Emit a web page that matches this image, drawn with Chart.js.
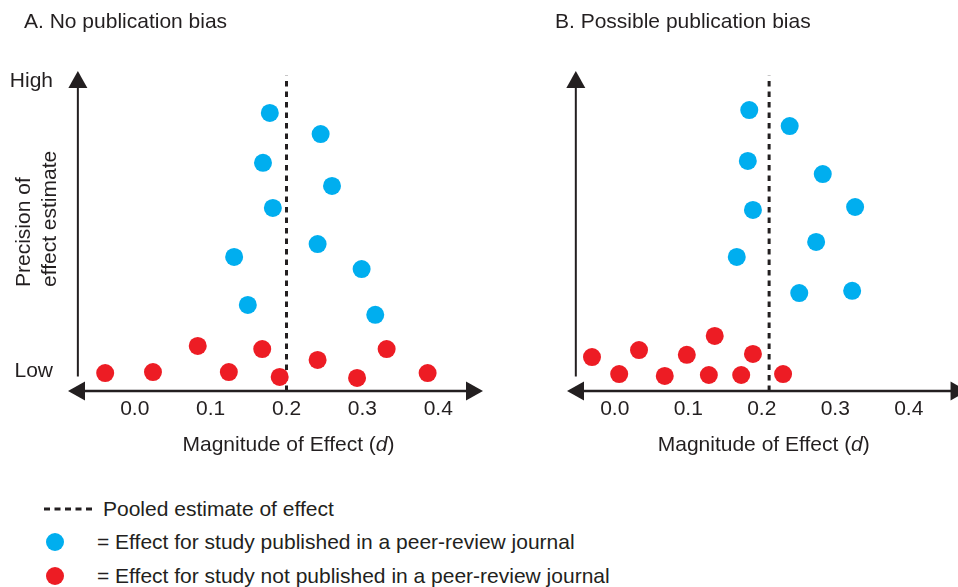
<!DOCTYPE html>
<html>
<head>
<meta charset="utf-8">
<script src="https://cdn.jsdelivr.net/npm/chart.js@4"></script>
<style>
  html, body { margin: 0; padding: 0; background: #fff; overflow: hidden; width: 958px; height: 587px; }
  body { position: relative; font-family: "Liberation Sans", Arial, sans-serif; color: #231f20; }
  canvas { position: absolute; top: 0; left: 0; }
  .t { position: absolute; font-size: 21px; line-height: 24px; white-space: nowrap; }
  .dot { position: absolute; width: 18px; height: 18px; border-radius: 50%; }
  svg { position: absolute; }
</style>
</head>
<body>
<canvas id="panelA" width="958" height="470"></canvas>
<canvas id="panelB" width="958" height="470"></canvas>

<div class="t" style="left:24px;top:9px">A. No publication bias</div>
<div class="t" style="left:555px;top:9px">B. Possible publication bias</div>

<svg style="left:44px;top:504px" width="50" height="10"><line id="legendDash" x1="0" y1="5" x2="48" y2="5" stroke-width="3"/></svg>
<div class="t" style="left:103px;top:497px">Pooled estimate of effect</div>
<div class="dot" id="legendBlue" style="left:46px;top:533px"></div>
<div class="t" style="left:97px;top:530px">= Effect for study published in a peer-review journal</div>
<div class="dot" id="legendRed" style="left:46px;top:567px"></div>
<div class="t" style="left:97px;top:564px">= Effect for study not published in a peer-review journal</div>

<script>
// Effect-size tick marks along the horizontal axis
const xTicks = [0.0, 0.1, 0.2, 0.3, 0.4];
const tickLabels = ['0.0', '0.1', '0.2', '0.3', '0.4'];

// Panel A: no publication bias
const aPublishedEffect    = [0.178, 0.245, 0.169, 0.260, 0.182, 0.241, 0.131, 0.299, 0.149, 0.317];
const aPublishedPrecision = [8.69, 8.03, 7.13, 6.41, 5.72, 4.59, 4.19, 3.81, 2.69, 2.38];
const aUnpublishedEffect    = [0.083, 0.168, 0.332, 0.241, -0.039, 0.024, 0.124, 0.191, 0.293, 0.386];
const aUnpublishedPrecision = [1.41, 1.31, 1.31, 0.97, 0.56, 0.59, 0.59, 0.44, 0.41, 0.56];
const aPooled = 0.20;

// Panel B: possible publication bias
const bPublishedEffect    = [0.183, 0.238, 0.181, 0.283, 0.327, 0.188, 0.274, 0.166, 0.251, 0.323];
const bPublishedPrecision = [8.78, 8.28, 7.19, 6.78, 5.75, 5.66, 4.66, 4.19, 3.06, 3.13];
const bUnpublishedEffect    = [0.136, 0.033, 0.188, 0.098, -0.031, 0.006, 0.229, 0.068, 0.128, 0.172];
const bUnpublishedPrecision = [1.72, 1.28, 1.16, 1.13, 1.06, 0.53, 0.53, 0.47, 0.50, 0.50];
const bPooled = 0.21;

const INK = '#231f20';
const BLUE = '#00aeef';
const RED = '#ed1c24';
const FONT = '"Liberation Sans", Arial, sans-serif';

document.getElementById('legendDash').setAttribute('stroke', INK);
document.getElementById('legendDash').setAttribute('stroke-dasharray', '6 4.5');
document.getElementById('legendBlue').style.background = BLUE;
document.getElementById('legendRed').style.background = RED;

const zip = (xs, ys) => xs.map((v, i) => ({ x: v, y: ys[i] }));

// Arrowed axes, tick labels and axis titles
const arrowAxes = {
  id: 'arrowAxes',
  beforeDatasetsDraw(chart, args, opts) {
    const { ctx, scales: { x, y } } = chart;
    const head = 17, half = 9.5;
    const y0 = y.getPixelForValue(0);
    const L = x.getPixelForValue(opts.arrowFrom), R = x.getPixelForValue(opts.arrowTo);
    const T = y.getPixelForValue(y.max);
    const ax = x.getPixelForValue(opts.yAxisAt);
    ctx.save();
    ctx.strokeStyle = INK;
    ctx.fillStyle = INK;

    // horizontal axis with arrowheads at both ends
    ctx.lineWidth = 2.5;
    ctx.beginPath(); ctx.moveTo(L + head - 1, y0); ctx.lineTo(R - head + 1, y0); ctx.stroke();
    ctx.beginPath(); ctx.moveTo(L, y0); ctx.lineTo(L + head, y0 - half); ctx.lineTo(L + head, y0 + half); ctx.closePath(); ctx.fill();
    ctx.beginPath(); ctx.moveTo(R, y0); ctx.lineTo(R - head, y0 - half); ctx.lineTo(R - head, y0 + half); ctx.closePath(); ctx.fill();

    // vertical axis with an arrowhead at the top
    ctx.lineWidth = 2;
    ctx.beginPath(); ctx.moveTo(ax, T + head - 1); ctx.lineTo(ax, y.getPixelForValue(opts.yAxisFrom)); ctx.stroke();
    ctx.beginPath(); ctx.moveTo(ax, T); ctx.lineTo(ax - half, T + head); ctx.lineTo(ax + half, T + head); ctx.closePath(); ctx.fill();

    // tick labels
    ctx.font = '21px ' + FONT;
    ctx.textAlign = 'center';
    ctx.textBaseline = 'alphabetic';
    xTicks.forEach((v, i) => ctx.fillText(tickLabels[i], x.getPixelForValue(v), y0 + 24));

    // horizontal axis title with italic d
    const parts = [['Magnitude of Effect (', 'normal'], ['d', 'italic'], [')', 'normal']];
    let total = 0;
    parts.forEach(p => { ctx.font = p[1] + ' 21px ' + FONT; total += ctx.measureText(p[0]).width; });
    let cx = x.getPixelForValue(0.2) + 2 - total / 2;
    ctx.textAlign = 'left';
    parts.forEach(p => {
      ctx.font = p[1] + ' 21px ' + FONT;
      ctx.fillText(p[0], cx, y0 + 60);
      cx += ctx.measureText(p[0]).width;
    });

    if (opts.showY) {
      ctx.font = '21px ' + FONT;
      ctx.textAlign = 'right';
      ctx.fillText('High', L - 15, T + 16);
      ctx.fillText('Low', L - 15, y0 - 14);
      ctx.save();
      ctx.translate(0, y0 - 104);
      ctx.rotate(-Math.PI / 2);
      ctx.textAlign = 'left';
      ctx.fillText('Precision of', 0, 29.5);
      ctx.fillText('effect estimate', 0, 55.5);
      ctx.restore();
    }
    ctx.restore();
  }
};

function makePanel(id, pubX, pubY, unpubX, unpubY, pooled, xRange, pad, axisOpts) {
  return new Chart(document.getElementById(id), {
    type: 'scatter',
    data: {
      datasets: [
        { data: zip(pubX, pubY), backgroundColor: BLUE, borderWidth: 0, pointRadius: 9, pointHoverRadius: 9 },
        { data: zip(unpubX, unpubY), backgroundColor: RED, borderWidth: 0, pointRadius: 9, pointHoverRadius: 9 },
        { data: [{ x: pooled, y: 0 }, { x: pooled, y: 9.85 }], showLine: true, borderColor: INK,
          borderWidth: 3, borderDash: [5.5, 5], pointRadius: 0, pointHoverRadius: 0 }
      ]
    },
    options: {
      responsive: false,
      animation: false,
      events: [],
      layout: { padding: pad, autoPadding: false },
      scales: {
        x: { type: 'linear', display: false, min: xRange[0], max: xRange[1] },
        y: { type: 'linear', display: false, min: 0, max: 10 }
      },
      plugins: {
        legend: { display: false },
        title: { display: false },
        tooltip: { enabled: false },
        arrowAxes: axisOpts
      }
    },
    plugins: [arrowAxes]
  });
}

makePanel('panelA', aPublishedEffect, aPublishedPrecision, aUnpublishedEffect, aUnpublishedPrecision, aPooled,
  [-0.088, 0.459], { left: 68, right: 475, top: 71, bottom: 79 },
  { yAxisAt: -0.075, yAxisFrom: 0.45, showY: true, arrowFrom: -0.088, arrowTo: 0.459 });

makePanel('panelB', bPublishedEffect, bPublishedPrecision, bUnpublishedEffect, bUnpublishedPrecision, bPooled,
  [-0.065, 0.467], { left: 567, right: 0, top: 71, bottom: 79 },
  { yAxisAt: -0.053, yAxisFrom: 0.45, showY: false, arrowFrom: -0.065, arrowTo: 0.48 });
</script>
</body>
</html>
